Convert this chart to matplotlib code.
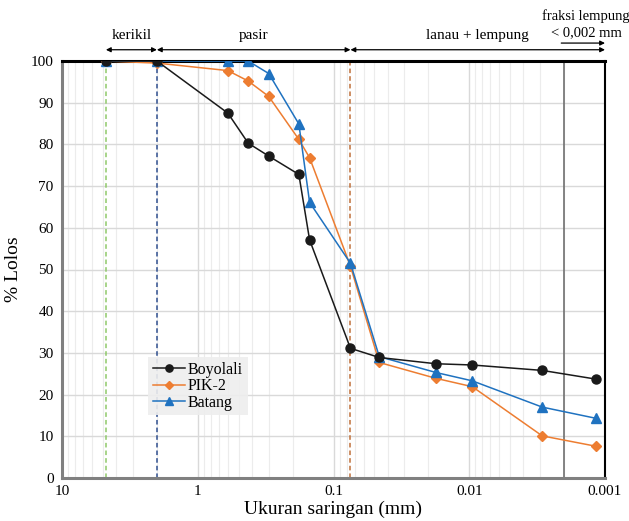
import numpy as np
import matplotlib.pyplot as plt

plt.rcParams['font.family'] = ['Liberation Serif', 'DejaVu Serif']

# sieve / hydrometer diameters (mm)
diam = [4.75, 2.0, 0.6, 0.425, 0.3, 0.18, 0.15, 0.075, 0.046, 0.0176, 0.0095, 0.0029, 0.00116]
boyolali = [100, 100, 87.5, 80.3, 77.2, 72.8, 57.1, 31.1, 28.9, 27.4, 27.1, 25.8, 23.7]
pik2 = [100, 99.5, 97.7, 95.2, 91.5, 81.2, 76.8, 50.8, 27.7, 23.9, 21.9, 10.1, 7.6]
batang = [100, 100, 100, 100, 97.0, 84.9, 66.1, 51.5, 29.1, 25.3, 23.3, 17.0, 14.3]

xticks = [10, 1, 0.1, 0.01, 0.001]
xticklabels = ['10', '1', '0.1', '0.01', '0.001']

fig = plt.figure(figsize=(6.29, 5.21), dpi=100)
ax = fig.add_axes([62/629, 1-478/521, 543/629, 417/521])

ax.set_xscale('log')
ax.set_xlim(10, 0.001)
ax.set_ylim(0, 100)

ax.grid(which='major', color='#d9d9d9', lw=1.0)
ax.grid(which='minor', axis='x', color='#ececec', lw=0.8)
ax.set_axisbelow(True)

# boundary lines
ax.axvline(4.75, color='#8fc96a', ls='--', lw=1.1, dashes=(3, 2))
ax.axvline(2.0, color='#2f4f8f', ls='--', lw=1.1, dashes=(3, 2))
ax.axvline(0.075, color='#c0703a', ls='--', lw=1.1, dashes=(3, 2))
ax.axvline(0.002, color='#707070', lw=1.2)

ax.plot(diam, boyolali, color='#1a1a1a', marker='o', ms=6.5, lw=1.1, label='Boyolali', zorder=5)
ax.plot(diam, pik2, color='#ED7D31', marker='D', ms=5, lw=1.1, label='PIK-2', zorder=4)
ax.plot(diam, batang, color='#1f72c0', marker='^', ms=6.5, lw=1.1, label='Batang', zorder=4)

ax.set_xticks(xticks)
ax.set_xticklabels(xticklabels)
ax.set_yticks(range(0, 101, 10))
ax.tick_params(axis='both', which='both', length=0, labelsize=11)
ax.tick_params(axis='x', pad=5)
ax.tick_params(axis='y', pad=6)

for s in ['left', 'bottom']:
    ax.spines[s].set_color('#808080')
    ax.spines[s].set_linewidth(2.2)
ax.spines['top'].set_color('black')
ax.spines['top'].set_linewidth(2.2)
ax.spines['right'].set_color('black')
ax.spines['right'].set_linewidth(1.5)

ax.set_xlabel('Ukuran saringan (mm)', fontsize=14, labelpad=2)
ax.set_ylabel('% Lolos', fontsize=14, labelpad=6)

leg = ax.legend(loc='lower left', bbox_to_anchor=(0.158, 0.15), fontsize=11.5,
                frameon=True, fancybox=False, handlelength=2.0, handletextpad=0.2,
                borderpad=0.3, labelspacing=0.02, borderaxespad=0, markerscale=0.8)
leg.get_frame().set_facecolor('#eeeeee')
leg.get_frame().set_edgecolor('none')
leg.get_frame().set_alpha(0.9)

# fraction arrows above plot
ytop = 102.7
arrows = [(4.75, 2.0, 'kerikil'), (2.0, 0.075, 'pasir'), (0.075, 0.001, 'lanau + lempung')]
for x0, x1, lab in arrows:
    ax.annotate('', xy=(x1, ytop), xytext=(x0, ytop), xycoords='data',
                arrowprops=dict(arrowstyle='<|-|>', color='black', lw=0.9,
                                mutation_scale=7, shrinkA=0, shrinkB=0),
                annotation_clip=False)
    xm = np.sqrt(x0 * x1)
    ax.text(xm, ytop + 1.8, lab, ha='center', va='bottom', fontsize=11)
ax.annotate('', xy=(0.001, 104.3), xytext=(0.0021, 104.3), xycoords='data',
            arrowprops=dict(arrowstyle='-|>', color='black', lw=0.9,
                            mutation_scale=7, shrinkA=0, shrinkB=0),
            annotation_clip=False)
ax.text(0.00138, 105.3, 'fraksi lempung\n< 0,002 mm', ha='center', va='bottom',
        fontsize=10.5, linespacing=1.25)

fig.savefig('out.png', dpi=100)
